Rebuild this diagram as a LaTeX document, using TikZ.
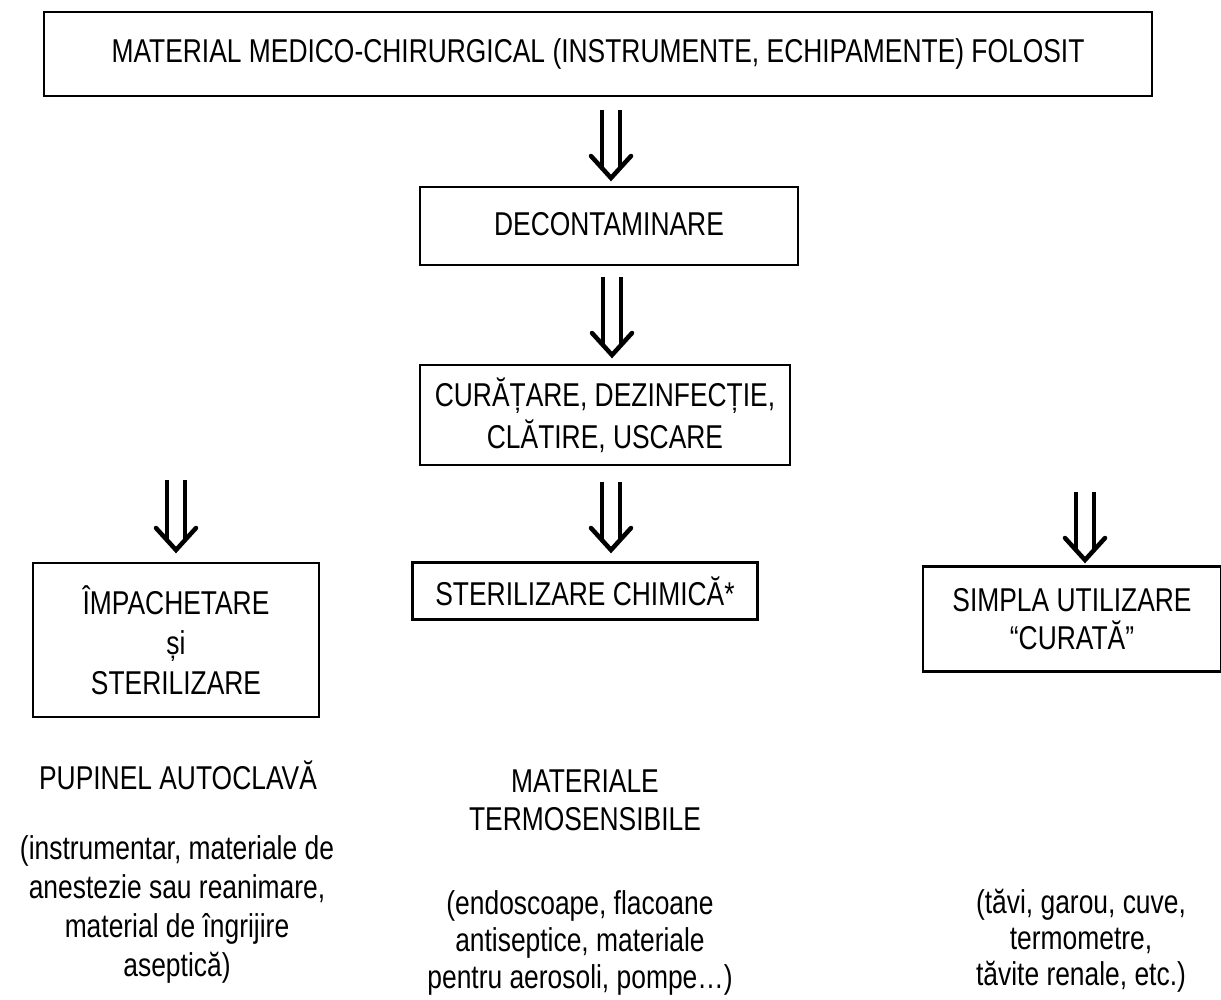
\documentclass[tikz,border=0pt]{standalone}
\usepackage{fontspec}
\setmainfont[FakeStretch=0.8]{Liberation Sans}
\usetikzlibrary{calc}
\tikzset{
  box/.style={draw, line width=2.6pt, align=center, inner sep=0pt, font=\fontsize{33}{40}\selectfont},
  txt/.style={align=center, inner sep=0pt, font=\fontsize{33}{40}\selectfont},
  shaft/.style={line width=4.5pt},
  vhead/.style={line width=4.5pt, line cap=round, line join=miter},
}
\newcommand\dblarrow[2]{%
  \draw[shaft] ($(#1)+(-9,0)$) -- ($(#2)+(-9,-10)$);
  \draw[shaft] ($(#1)+(9,0)$) -- ($(#2)+(9,-10)$);
  \draw[vhead] ($(#2)+(-20,-22)$) -- (#2) -- ($(#2)+(20,-22)$);
}
\begin{document}
\begin{tikzpicture}[x=1pt,y=-1pt]
\useasboundingbox (0,0) rectangle (1221,1000);
% boxes
\node[box, minimum width=1108pt, minimum height=84pt] (top) at (598,54)
  {MATERIAL MEDICO-CHIRURGICAL (INSTRUMENTE, ECHIPAMENTE) FOLOSIT};
\node[box, minimum width=378pt, minimum height=78pt, text depth=4pt] (decon) at (609,226)
  {DECONTAMINARE};
\node[box, minimum width=370pt, minimum height=100pt, font=\fontsize{33}{42}\selectfont] (clean) at (605,415)
  {CURĂȚARE, DEZINFECȚIE,\\CLĂTIRE, USCARE};
\node[box, minimum width=286pt, minimum height=154pt] (pack) at (176,640)
  {ÎMPACHETARE\\și\\STERILIZARE};
\node[box, minimum width=345pt, minimum height=57pt] (chem) at (585,591)
  {STERILIZARE CHIMICĂ*};
\node[box, minimum width=298pt, minimum height=105pt, font=\fontsize{33}{38}\selectfont] (simple) at (1072,619)
  {SIMPLA UTILIZARE\\``CURATĂ''};
% free texts
\node[txt] (pupinel) at (178,775) {PUPINEL AUTOCLAVĂ};
\node[txt, font=\fontsize{33}{39}\selectfont] (pupdesc) at (177,909)
  {(instrumentar, materiale de\\anestezie sau reanimare,\\material de îngrijire\\aseptică)};
\node[txt, font=\fontsize{33}{38}\selectfont] (termo) at (585,800) {MATERIALE\\TERMOSENSIBILE};
\node[txt, font=\fontsize{33}{37}\selectfont] (termodesc) at (580,943)
  {(endoscoape, flacoane\\antiseptice, materiale\\pentru aerosoli, pompe\dots)};
\node[txt, font=\fontsize{33}{36}\selectfont] (simpledesc) at (1081,941)
  {(tăvi, garou, cuve,\\termometre,\\tăvite renale, etc.)};
% arrows
\coordinate (a1s) at (611,110); \coordinate (a1e) at (611,178);
\coordinate (a2s) at (612,277); \coordinate (a2e) at (612,355);
\coordinate (a3s) at (176,480); \coordinate (a3e) at (176,550);
\coordinate (a4s) at (611,482); \coordinate (a4e) at (611,550);
\coordinate (a5s) at (1085,492); \coordinate (a5e) at (1085,560);
\dblarrow{a1s}{a1e}
\dblarrow{a2s}{a2e}
\dblarrow{a3s}{a3e}
\dblarrow{a4s}{a4e}
\dblarrow{a5s}{a5e}
\end{tikzpicture}
\end{document}
